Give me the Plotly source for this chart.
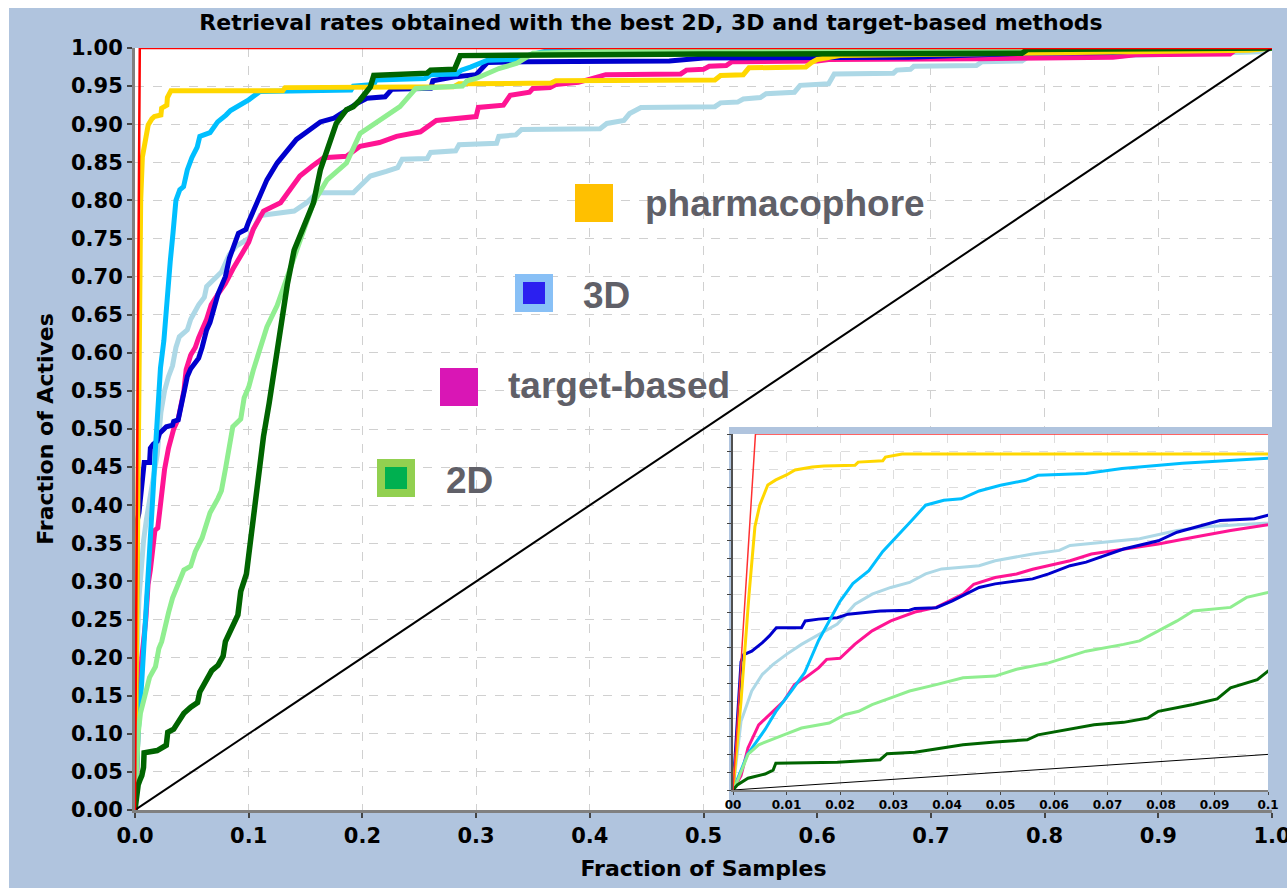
import plotly.graph_objects as go

# ---------------- data ----------------
x_tick_vals = [0.0, 0.1, 0.2, 0.3, 0.4, 0.5, 0.6, 0.7, 0.8, 0.9, 1.0]
x_tick_text = ["0.0", "0.1", "0.2", "0.3", "0.4", "0.5", "0.6", "0.7", "0.8", "0.9", "1.0"]
y_tick_vals = [i * 0.05 for i in range(21)]
y_tick_text = ["%.2f" % v for v in y_tick_vals]
inset_tick_vals = [0.0, 0.01, 0.02, 0.03, 0.04, 0.05, 0.06, 0.07, 0.08, 0.09, 0.1]
inset_tick_text = ["00", "0.01", "0.02", "0.03", "0.04", "0.05", "0.06", "0.07", "0.08", "0.09", "0.1"]

pharm_x = [0, 0.0015, 0.003, 0.0041, 0.005, 0.0065, 0.008, 0.010, 0.0116, 0.0148, 0.017, 0.0228, 0.0234, 0.028,
           0.0285, 0.0316, 0.13, 0.132, 0.28, 0.285, 0.366, 0.37, 0.51, 0.515, 0.535, 0.54, 0.59, 0.595, 0.60,
           0.62, 0.80, 0.98, 1.0]
pharm_y = [0, 0.25, 0.55, 0.74, 0.80, 0.857, 0.871, 0.885, 0.899, 0.907, 0.91, 0.912, 0.921, 0.925,
           0.935, 0.944, 0.944, 0.948, 0.949, 0.953, 0.954, 0.957, 0.958, 0.964, 0.965, 0.974, 0.975, 0.981, 0.985,
           0.99, 0.993, 0.997, 1.0]

sky_x = [0, 0.0027, 0.006, 0.008, 0.011, 0.0134, 0.016, 0.018, 0.02, 0.0224, 0.0254, 0.028, 0.031, 0.0334, 0.036,
         0.0394, 0.0427, 0.046, 0.05, 0.0547, 0.057, 0.066, 0.0727, 0.08, 0.084, 0.1, 0.11, 0.19, 0.192, 0.21,
         0.212, 0.255, 0.26, 0.283, 0.287, 0.295, 0.31, 0.336, 0.345, 0.362, 0.40, 1.0]
sky_y = [0, 0.10, 0.17, 0.22, 0.28, 0.33, 0.42, 0.475, 0.53, 0.58, 0.616, 0.67, 0.72, 0.757, 0.80,
         0.814, 0.818, 0.84, 0.856, 0.87, 0.884, 0.889, 0.903, 0.912, 0.918, 0.932, 0.943, 0.945, 0.95, 0.952,
         0.958, 0.96, 0.965, 0.966, 0.971, 0.975, 0.984, 0.985, 0.99, 0.996, 0.997, 1.0]

blue_x = [0, 0.0008, 0.0015, 0.002, 0.0035, 0.0055, 0.0068, 0.0081, 0.0128, 0.0135, 0.016, 0.0195, 0.0215, 0.0275,
          0.033, 0.034, 0.038, 0.041, 0.046, 0.049, 0.056, 0.059, 0.063, 0.066, 0.073, 0.0795, 0.083, 0.091, 0.0975,
          0.1, 0.107, 0.116, 0.125, 0.134, 0.142, 0.154, 0.163, 0.175, 0.186, 0.195, 0.204, 0.22, 0.226, 0.26, 0.262,
          0.28, 0.30, 0.31, 0.345, 0.47, 0.50, 0.68, 0.78, 0.86, 0.90, 1.0]
blue_y = [0, 0.2, 0.36, 0.38, 0.39, 0.414, 0.433, 0.456, 0.456, 0.475, 0.48, 0.484, 0.494, 0.503,
          0.505, 0.51, 0.512, 0.531, 0.569, 0.579, 0.593, 0.607, 0.63, 0.64, 0.677, 0.70, 0.724, 0.757, 0.762,
          0.772, 0.797, 0.827, 0.849, 0.866, 0.88, 0.893, 0.903, 0.908, 0.919, 0.927, 0.934, 0.936, 0.946, 0.947, 0.957,
          0.962, 0.965, 0.981, 0.982, 0.983, 0.987, 0.988, 0.993, 0.994, 0.998, 1.0]

pink_x = [0, 0.0015, 0.0028, 0.0048, 0.006, 0.0095, 0.0115, 0.0135, 0.016, 0.0175, 0.02, 0.0228, 0.026, 0.0295,
          0.034, 0.038, 0.043, 0.045, 0.049, 0.053, 0.056, 0.063, 0.067, 0.073, 0.0795, 0.0861, 0.093, 0.1, 0.104,
          0.113, 0.128, 0.136, 0.145, 0.156, 0.166, 0.186, 0.198, 0.215, 0.23, 0.251, 0.265, 0.30, 0.302, 0.324,
          0.33, 0.347, 0.35, 0.365, 0.37, 0.39, 0.414, 0.48, 0.485, 0.50, 0.505, 0.52, 0.525, 0.60, 0.61, 0.74,
          0.78, 0.86, 0.88, 0.963, 0.97, 1.0]
pink_y = [0, 0.04, 0.118, 0.183, 0.2, 0.25, 0.296, 0.315, 0.343, 0.367, 0.37, 0.41, 0.447, 0.475,
          0.5, 0.513, 0.55, 0.578, 0.597, 0.607, 0.62, 0.644, 0.663, 0.677, 0.691, 0.71, 0.729, 0.745, 0.762,
          0.786, 0.797, 0.814, 0.832, 0.845, 0.856, 0.858, 0.871, 0.876, 0.884, 0.89, 0.905, 0.91, 0.922, 0.925,
          0.938, 0.942, 0.947, 0.948, 0.952, 0.955, 0.965, 0.966, 0.971, 0.972, 0.976, 0.977, 0.982, 0.983, 0.985,
          0.986, 0.987, 0.988, 0.991, 0.992, 1.0, 1.0]

lightblue_x = [0, 0.0015, 0.0035, 0.0055, 0.0075, 0.01, 0.0128, 0.016, 0.0195, 0.0228, 0.026, 0.0295, 0.033, 0.036,
               0.039, 0.046, 0.049, 0.056, 0.061, 0.063, 0.069, 0.076, 0.083, 0.089, 0.1, 0.11, 0.14, 0.151, 0.16,
               0.192, 0.198, 0.207, 0.221, 0.231, 0.235, 0.257, 0.26, 0.282, 0.285, 0.318, 0.32, 0.335, 0.34, 0.409,
               0.415, 0.43, 0.435, 0.445, 0.51, 0.515, 0.53, 0.535, 0.55, 0.555, 0.58, 0.585, 0.61, 0.615, 0.667,
               0.67, 0.682, 0.685, 0.74, 0.745, 0.78, 0.785, 0.865, 0.87, 0.99, 1.0]
lightblue_y = [0, 0.193, 0.278, 0.325, 0.353, 0.381, 0.409, 0.437, 0.466, 0.522, 0.55, 0.569, 0.583, 0.607,
               0.621, 0.63, 0.644, 0.663, 0.673, 0.687, 0.696, 0.706, 0.729, 0.74, 0.75, 0.78, 0.786, 0.797, 0.81,
               0.81, 0.819, 0.832, 0.838, 0.843, 0.854, 0.855, 0.863, 0.865, 0.873, 0.875, 0.884, 0.886, 0.893, 0.894,
               0.901, 0.905, 0.914, 0.922, 0.923, 0.928, 0.929, 0.933, 0.935, 0.94, 0.942, 0.951, 0.953, 0.966, 0.967,
               0.971, 0.972, 0.976, 0.977, 0.982, 0.983, 0.988, 0.989, 0.99, 0.995, 1.0]

lightgreen_x = [0, 0.0008, 0.0028, 0.0048, 0.0095, 0.0128, 0.018, 0.021, 0.0235, 0.026, 0.0295, 0.033, 0.038, 0.043,
                0.049, 0.053, 0.059, 0.066, 0.073, 0.076, 0.0795, 0.083, 0.086, 0.093, 0.096, 0.1, 0.104, 0.116,
                0.125, 0.134, 0.147, 0.157, 0.169, 0.186, 0.198, 0.21, 0.221, 0.233, 0.243, 0.247, 0.288, 0.292,
                0.30, 0.31, 0.32, 0.336, 0.342, 0.35, 0.40, 0.50, 1.0]
lightgreen_y = [0, 0.024, 0.10, 0.127, 0.155, 0.174, 0.188, 0.212, 0.221, 0.24, 0.259, 0.278, 0.296, 0.315,
                0.32, 0.339, 0.357, 0.39, 0.409, 0.419, 0.447, 0.475, 0.503, 0.513, 0.541, 0.555, 0.577, 0.634,
                0.662, 0.70, 0.753, 0.797, 0.827, 0.849, 0.888, 0.90, 0.91, 0.923, 0.94, 0.947, 0.95, 0.957,
                0.96, 0.967, 0.973, 0.98, 0.986, 0.993, 0.995, 0.997, 1.0]

darkgreen_x = [0, 0.0008, 0.0028, 0.0045, 0.006, 0.0075, 0.008, 0.0195, 0.024, 0.0275, 0.0288, 0.034, 0.037, 0.043,
               0.049, 0.055, 0.057, 0.064, 0.0675, 0.073, 0.0775, 0.0795, 0.086, 0.0905, 0.093, 0.098, 0.1, 0.107,
               0.113, 0.118, 0.125, 0.128, 0.134, 0.14, 0.145, 0.157, 0.163, 0.172, 0.177, 0.186, 0.192, 0.198,
               0.207, 0.21, 0.257, 0.26, 0.281, 0.286, 0.345, 0.50, 0.78, 0.785, 1.0]
darkgreen_y = [0, 0.014, 0.033, 0.04, 0.045, 0.056, 0.075, 0.078, 0.082, 0.085, 0.102, 0.106, 0.113, 0.127,
               0.135, 0.141, 0.155, 0.175, 0.183, 0.19, 0.202, 0.221, 0.24, 0.256, 0.287, 0.31, 0.334, 0.42,
               0.49, 0.534, 0.604, 0.634, 0.69, 0.735, 0.753, 0.797, 0.84, 0.88, 0.901, 0.919, 0.923, 0.932,
               0.949, 0.964, 0.967, 0.971, 0.972, 0.99, 0.991, 0.992, 0.993, 0.998, 1.0]

perfect_x = [0, 0.0042, 1.0]
perfect_y = [0, 1.0, 1.0]
random_x = [0, 1.0]
random_y = [0, 1.0]

legend_labels = ["pharmacophore", "3D", "target-based", "2D"]

# ---------------- layout geometry ----------------
W, H = 1287, 888
ML, MR, MT, MB = 135, 15, 48, 78
PW = W - ML - MR
PH = H - MT - MB
BG = "#B0C4DE"


def fx(px):
    return (px - ML) / PW


def fy(py):
    return (H - MB - py) / PH


series = [
    (lightblue_x, lightblue_y, "#ADD8E6", 5),
    (pink_x, pink_y, "#FF1493", 5),
    (blue_x, blue_y, "#0000CD", 5),
    (sky_x, sky_y, "#00BFFF", 5),
    (pharm_x, pharm_y, "#FFD700", 5),
    (lightgreen_x, lightgreen_y, "#90EE90", 5),
    (darkgreen_x, darkgreen_y, "#006400", 5.5),
]

fig = go.Figure()

# main plot
for xs, ys, col, w in series:
    fig.add_trace(go.Scatter(x=xs, y=ys, mode="lines", line=dict(color=col, width=w),
                             showlegend=False, hoverinfo="skip"))
fig.add_trace(go.Scatter(x=random_x, y=random_y, mode="lines", line=dict(color="black", width=2),
                         showlegend=False, hoverinfo="skip"))
fig.add_trace(go.Scatter(x=perfect_x, y=perfect_y, mode="lines", line=dict(color="#FF0000", width=2.5),
                         showlegend=False, hoverinfo="skip"))

# frame subplot for inset (steel-blue border)
fig.add_trace(go.Scatter(x=[0.5], y=[0.5], mode="markers", marker=dict(opacity=0), xaxis="x2", yaxis="y2",
                         showlegend=False, hoverinfo="skip"))

# inset
for xs, ys, col, w in series:
    fig.add_trace(go.Scatter(x=xs, y=ys, mode="lines", line=dict(color=col, width=3),
                             xaxis="x3", yaxis="y3", showlegend=False, hoverinfo="skip"))
fig.add_trace(go.Scatter(x=random_x, y=random_y, mode="lines", line=dict(color="black", width=1),
                         xaxis="x3", yaxis="y3", showlegend=False, hoverinfo="skip"))
fig.add_trace(go.Scatter(x=perfect_x, y=perfect_y, mode="lines", line=dict(color="#FF3030", width=1.5),
                         xaxis="x3", yaxis="y3", showlegend=False, hoverinfo="skip"))

tickfont = dict(family="DejaVu Sans", size=21, color="black", weight="bold")
axfont = dict(family="DejaVu Sans", size=22, color="black", weight="bold")

fig.update_layout(
    width=W, height=H, autosize=False,
    margin=dict(l=ML, r=MR, t=MT, b=MB, pad=0, autoexpand=False),
    paper_bgcolor=BG, plot_bgcolor="white",
    title=dict(text="Retrieval rates obtained with the best 2D, 3D and target-based methods",
               font=dict(family="DejaVu Sans", size=22, color="black", weight="bold"),
               x=651 / W, xref="container", xanchor="center",
               y=1 - 22 / H, yref="container", yanchor="middle"),
    xaxis=dict(domain=[0, 1], range=[0, 1], tickmode="array", tickvals=x_tick_vals, ticktext=x_tick_text,
               ticks="outside", ticklen=5, tickwidth=2, tickcolor="#444444", automargin=False,
               ticklabeloverflow="allow",
               showline=True, linecolor="#808080", linewidth=3,
               showgrid=True, gridcolor="#D0D0D0", griddash="dash", gridwidth=1, zeroline=False,
               tickfont=tickfont,
               title=dict(text="Fraction of Samples", font=axfont, standoff=14)),
    yaxis=dict(domain=[0, 1], range=[0, 1], tickmode="array", tickvals=y_tick_vals, ticktext=y_tick_text,
               ticks="outside", ticklen=5, tickwidth=2, tickcolor="#444444", automargin=False,
               showline=True, linecolor="#808080", linewidth=3,
               showgrid=True, gridcolor="#D0D0D0", griddash="dash", gridwidth=1, zeroline=False,
               tickfont=tickfont,
               title=dict(text="Fraction of Actives", font=axfont, standoff=12)),
    xaxis2=dict(domain=[fx(729), 1.0], range=[0, 1], anchor="y2", showgrid=False, zeroline=False,
                showline=False, ticks="", showticklabels=False, automargin=False),
    yaxis2=dict(domain=[0, fy(427)], range=[0, 1], anchor="x2", showgrid=False, zeroline=False,
                showline=False, ticks="", showticklabels=False, automargin=False),
    xaxis3=dict(domain=[fx(733), fx(1268)], range=[0, 0.1], anchor="y3", tickmode="array",
                tickvals=inset_tick_vals, ticktext=inset_tick_text, automargin=False,
                ticklabeloverflow="allow",
                ticks="outside", ticklen=3, tickcolor="#444444",
                showline=True, linecolor="#808080", linewidth=2,
                showgrid=True, gridcolor="#DDDDDD", griddash="dash", gridwidth=1, zeroline=False,
                tickfont=dict(family="DejaVu Sans", size=12, color="black", weight="bold")),
    yaxis3=dict(domain=[fy(790), fy(434)], range=[0, 1], anchor="x3", dtick=0.05, tick0=0,
                ticks="outside", ticklen=4, tickcolor="#444444", showticklabels=False, automargin=False,
                showline=True, linecolor="#505050", linewidth=2,
                showgrid=True, gridcolor="#DDDDDD", griddash="dash", gridwidth=1, zeroline=False),
)

shapes = [
    # steel-blue frame around the inset
    dict(type="rect", xref="x2", yref="y2", x0=0, x1=1, y0=0, y1=1, fillcolor=BG, line_width=0, layer="below"),
    # white strips at the left / top edge of the picture
    dict(type="rect", xref="paper", yref="paper", x0=fx(-5), x1=fx(9), y0=fy(H + 5), y1=fy(-5),
         fillcolor="white", line_width=0, layer="above"),
    dict(type="rect", xref="paper", yref="paper", x0=fx(-5), x1=fx(W + 5), y0=fy(8), y1=fy(-5),
         fillcolor="white", line_width=0, layer="above"),
    # legend squares
    dict(type="rect", xref="paper", yref="paper", x0=fx(575), x1=fx(613), y0=fy(222), y1=fy(184),
         fillcolor="#FFC000", line_width=0, layer="above"),
    dict(type="rect", xref="paper", yref="paper", x0=fx(515), x1=fx(553), y0=fy(312), y1=fy(274),
         fillcolor="#88C0F6", line_width=0, layer="above"),
    dict(type="rect", xref="paper", yref="paper", x0=fx(523), x1=fx(545), y0=fy(304), y1=fy(282),
         fillcolor="#2B20F0", line_width=0, layer="above"),
    dict(type="rect", xref="paper", yref="paper", x0=fx(440), x1=fx(478), y0=fy(406), y1=fy(368),
         fillcolor="#D916B5", line_width=0, layer="above"),
    dict(type="rect", xref="paper", yref="paper", x0=fx(377), x1=fx(415), y0=fy(497), y1=fy(459),
         fillcolor="#92D050", line_width=0, layer="above"),
    dict(type="rect", xref="paper", yref="paper", x0=fx(385), x1=fx(407), y0=fy(489), y1=fy(467),
         fillcolor="#00B050", line_width=0, layer="above"),
]
fig.update_layout(shapes=shapes)

label_pos = [(643, 204), (581, 295), (506, 385), (444, 480)]
annotations = []
for txt, (px, py) in zip(legend_labels, label_pos):
    annotations.append(dict(text=txt, xref="paper", yref="paper", x=fx(px), y=fy(py),
                            xanchor="left", yanchor="middle", showarrow=False,
                            font=dict(family="Liberation Sans", size=37, color="#606068", weight="bold")))
fig.update_layout(annotations=annotations)

fig.write_html("out.html")
